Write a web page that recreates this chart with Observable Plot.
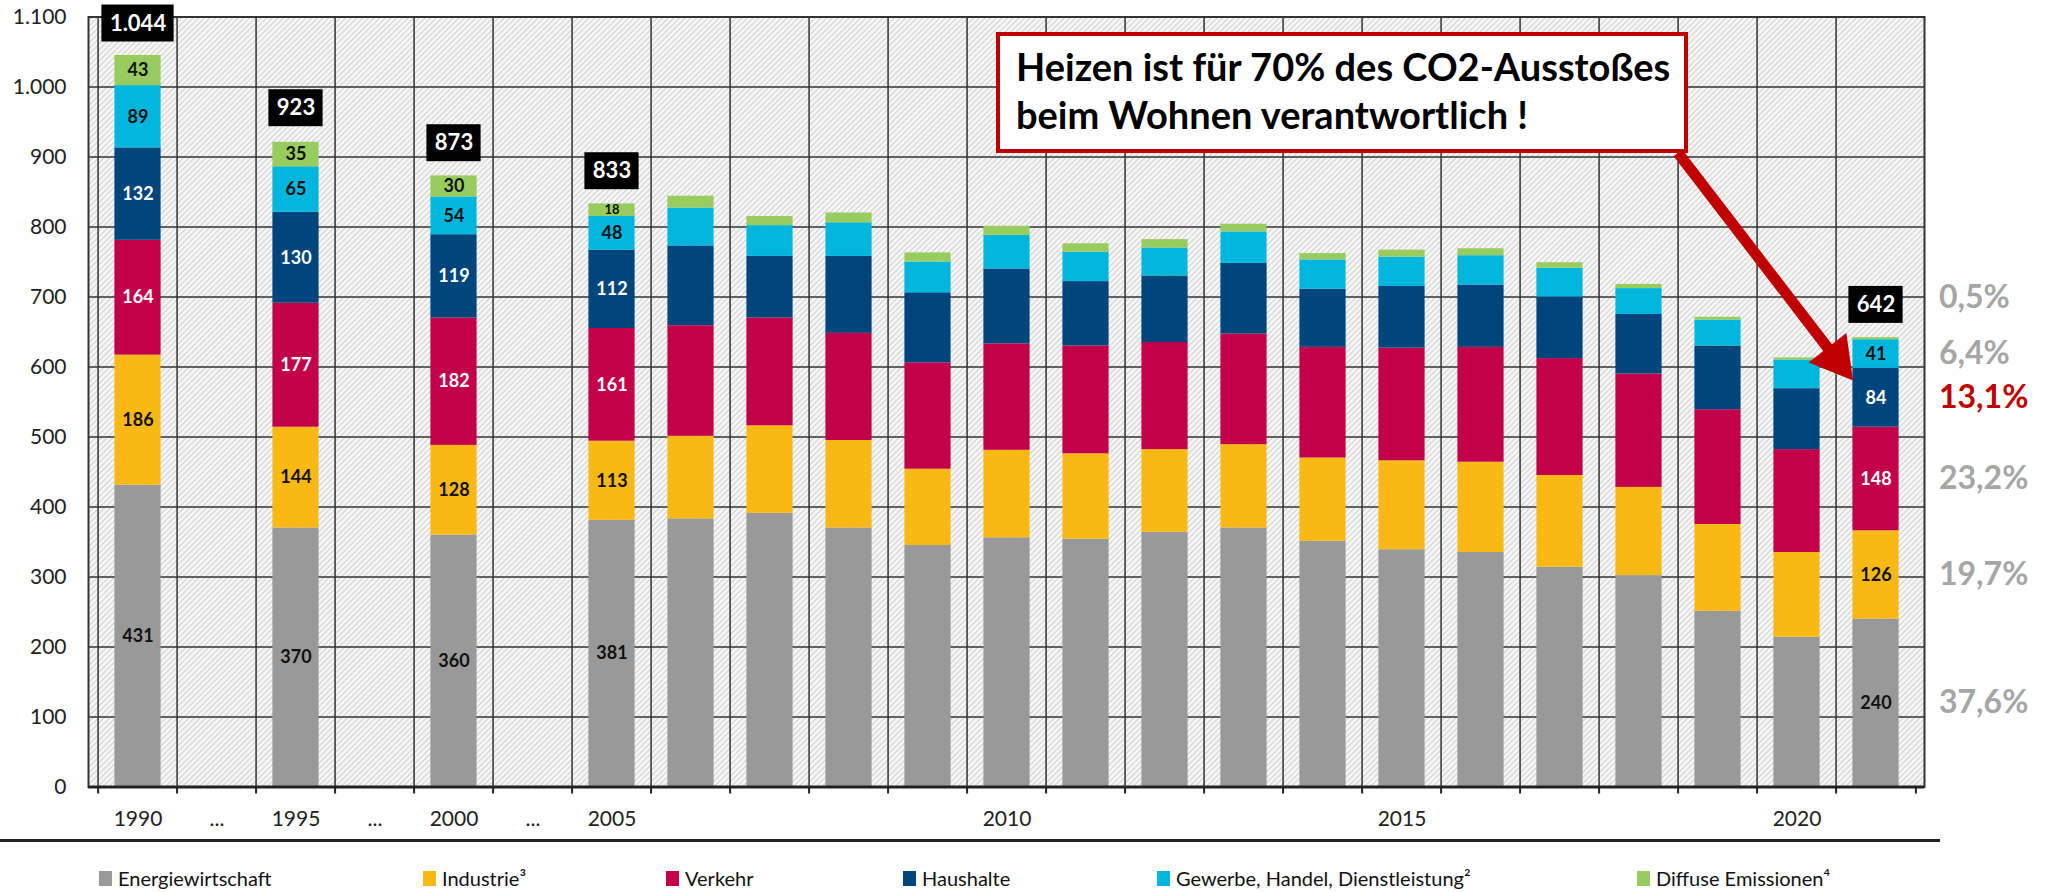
<!DOCTYPE html>
<html><head><meta charset="utf-8">
<script src="https://cdn.jsdelivr.net/npm/d3@7"></script>
<script src="https://cdn.jsdelivr.net/npm/@observablehq/plot@0.6"></script>
<style>
html,body{margin:0;padding:0;background:#fff;}
#wrap{position:relative;width:2055px;height:892px;overflow:hidden;font-family:Lato,sans-serif;}
#wrap svg{display:block;}
#note{position:absolute;left:996px;top:32px;width:692px;height:121px;box-sizing:border-box;border:4px solid #c00000;background:#fff;padding:6px 0 0 16px;font-weight:700;font-size:38px;font-family:Lato,sans-serif;line-height:48px;color:#000;white-space:nowrap;}
#rule{position:absolute;left:0;top:839px;width:1940px;height:3px;background:#222;}
#legend{position:absolute;left:0;top:867px;height:22px;width:2055px;}
.item{position:absolute;top:0;display:flex;align-items:center;font-weight:400;font-size:20px;font-family:Lato,sans-serif;color:#111;white-space:nowrap;line-height:22px;}
.sw{width:13px;height:15px;margin-right:6px;}
</style></head><body><div id="wrap"></div>
<script>
// ---- data ----
const years = ["1990","1995","2000","2005","2006","2007","2008","2009","2010","2011","2012","2013","2014","2015","2016","2017","2018","2019","2020","2021"];
const xSlots = ["1990","gap1","1995","gap2","2000","gap3","2005","2006","2007","2008","2009","2010","2011","2012","2013","2014","2015","2016","2017","2018","2019","2020","2021"];
const shownYearTicks = ["1990","1995","2000","2005","2010","2015","2020"];
const sectors = ["Energiewirtschaft","Industrie³","Verkehr","Haushalte","Gewerbe, Handel, Dienstleistung²","Diffuse Emissionen⁴"];
const colors = ["#999999","#f9b914","#c3004a","#00467c","#00b6dc","#99cc5f"];
const energie   = [431,370,360,381,383,391,370,345,356,354,364,370,351,339,335,314,302,251,214,240];
const industrie = [186,144,128,113,118,125,125,109,125,122,118,119,119,127,129,131,126,124,121,126];
const verkehr   = [164,177,182,161,158,154,153,152,152,154,153,158,158,161,164,167,162,164,147,148];
const haushalte = [132,130,119,112,114, 88,110,100,107, 92, 95,101, 83, 88, 89, 88, 85, 91, 87, 84];
const gewerbe   = [ 89, 65, 54, 48, 54, 44, 48, 44, 48, 42, 40, 45, 42, 42, 42, 41, 37, 37, 41, 41];
const diffuse   = [ 43, 35, 30, 18, 17, 13, 14, 13, 13, 12, 12, 11,  9, 10, 10,  8,  6,  4,  3,  3];
const labeledYears = ["1990","1995","2000","2005","2021"];
const totalYears  = ["1990","1995","2000","2005","2021"];
const totalValues = [1044, 923, 873, 833, 642];
const shareLabels = ["37,6%","19,7%","23,2%","13,1%","6,4%","0,5%"];
const yTicks = [0,100,200,300,400,500,600,700,800,900,1000,1100];
const noteLines = ["Heizen ist für 70% des CO2-Ausstoßes","beim Wohnen verantwortlich !"];
const arrowFrom = {x: "2019", y: 906};
const arrowTo   = {x: "2021", y: 612};

// ---- build tables ----
const series = [energie, industrie, verkehr, haushalte, gewerbe, diffuse];
const table = [];
years.forEach((yr, i) => sectors.forEach((s, j) => table.push({year: yr, sector: s, value: series[j][i]})));
const totals = totalYears.map((y, i) => ({year: y, total: totalValues[i]}));
const lastYear = years[years.length - 1];
let cum = 0;
const shareRows = sectors.map((s, j) => {
  const v = series[j][series[j].length - 1];
  const r = {sector: s, label: shareLabels[j], mid: cum + v / 2};
  cum += v;
  return r;
});

const W = 2055, H = 850, mL = 88, mR = 131, mT = 16.5, mB = 63.5;
const step = (W - mL - mR) / xSlots.length;
const de = d3.formatLocale({decimal: ",", thousands: ".", grouping: [3], currency: ["", "€"]});
const fmt = de.format(",d");
const whiteText = new Set(["Verkehr","Haushalte"]);
const isLab = d => labeledYears.includes(d.year) && d.value >= 10;
const barInset = 16.4;

const chart = Plot.plot({
  width: W, height: H,
  marginLeft: mL, marginRight: mR, marginTop: mT, marginBottom: mB,
  style: {fontFamily: "Lato, sans-serif", fontSize: "21px", color: "#222", background: "transparent"},
  x: {domain: xSlots, padding: 0, tickSize: 0, tickPadding: 24, label: null,
      tickFormat: d => d.startsWith("gap") ? "..." : (shownYearTicks.includes(d) ? d : "")},
  y: {domain: [0, 1100], ticks: yTicks, tickFormat: fmt, tickSize: 0, tickPadding: 22, label: null},
  color: {domain: sectors, range: colors},
  marks: [
    Plot.frame({fill: "url(#hatch)"}),
    Plot.ruleY(yTicks, {stroke: "#333", strokeWidth: 1.5}),
    Plot.ruleX(xSlots, {x: d => d, dx: -step / 2, stroke: "#333", strokeWidth: 1.5}),
    Plot.ruleX(xSlots, {x: d => d, y1: 0, y2: -10, dx: -step / 2, stroke: "#222", strokeWidth: 2}),
    Plot.ruleX([lastYear], {x: d => d, y1: 0, y2: -10, dx: step / 2, stroke: "#222", strokeWidth: 2}),
    Plot.barY(table, {x: "year", y: "value", fill: "sector", z: "sector", order: sectors, insetLeft: barInset, insetRight: barInset}),
    Plot.text(table, Plot.stackY({x: "year", y: "value", z: "sector", order: sectors,
      text: d => isLab(d) && d.value >= 25 && !whiteText.has(d.sector) ? String(d.value) : null,
      fill: "#111", fontWeight: 700, fontSize: 18})),
    Plot.text(table, Plot.stackY({x: "year", y: "value", z: "sector", order: sectors,
      text: d => isLab(d) && d.value >= 25 && whiteText.has(d.sector) ? String(d.value) : null,
      fill: "#fff", fontWeight: 700, fontSize: 18})),
    Plot.text(table, Plot.stackY({x: "year", y: "value", z: "sector", order: sectors,
      text: d => isLab(d) && d.value < 25 ? String(d.value) : null,
      fill: "#111", fontWeight: 700, fontSize: 13})),
    Plot.frame({stroke: "#333", strokeWidth: 2}),
    Plot.ruleY([0], {stroke: "#222", strokeWidth: 3}),
    Plot.barY(totals, {filter: d => d.total >= 1000, x: "year", y1: d => d.total + 20.3, y2: d => d.total + 73.1, fill: "#000", insetLeft: 3.4, insetRight: 3.4}),
    Plot.barY(totals, {filter: d => d.total < 1000, x: "year", y1: d => d.total + 20.3, y2: d => d.total + 73.1, fill: "#000", insetLeft: 12.4, insetRight: 12.4}),
    Plot.text(totals, {x: "year", y: d => d.total + 46.7, text: d => fmt(d.total), fill: "#fff", fontWeight: 700, fontSize: 22}),
    Plot.text(shareRows, {filter: d => d.sector !== "Haushalte" && d.sector !== "Diffuse Emissionen⁴", x: () => lastYear, y: "mid", text: "label", textAnchor: "start", dx: 63, fill: "#a6a6a6", fontWeight: 700, fontSize: 32}),
    Plot.text(shareRows, {filter: d => d.sector === "Haushalte", x: () => lastYear, y: "mid", text: "label", textAnchor: "start", dx: 63, fill: "#c00000", fontWeight: 700, fontSize: 32}),
    Plot.text(shareRows, {filter: d => d.sector === "Diffuse Emissionen⁴", x: () => lastYear, y: "mid", text: "label", textAnchor: "start", dx: 63, dy: -41, fill: "#a6a6a6", fontWeight: 700, fontSize: 32}),
    Plot.link([{}], {x1: () => arrowFrom.x, y1: () => arrowFrom.y, x2: () => arrowTo.x, y2: () => arrowTo.y, dx: -40, stroke: "#c00000", strokeWidth: 11}),
    Plot.dot([{}], {x: () => arrowTo.x, y: () => arrowTo.y, dx: -40, symbol: "triangle", r: 17.8, fill: "#c00000", stroke: "none", rotate: 142})
  ]
});

// hatch pattern for plot background
const defs = d3.select(chart).insert("defs", ":first-child");
const pat = defs.append("pattern").attr("id", "hatch").attr("width", 4).attr("height", 4)
  .attr("patternUnits", "userSpaceOnUse").attr("patternTransform", "rotate(45)");
pat.append("rect").attr("width", 4).attr("height", 4).attr("fill", "#f6f6f6");
pat.append("line").attr("x1", 0).attr("y1", 0).attr("x2", 0).attr("y2", 4).attr("stroke", "#c2c2c2").attr("stroke-width", 1.5);

const wrap = document.getElementById("wrap");
wrap.appendChild(chart);

// annotation box
const note = document.createElement("div");
note.id = "note";
note.innerHTML = noteLines.map(l => `<div>${l}</div>`).join("");
wrap.appendChild(note);

// rule under axis
const rule = document.createElement("div");
rule.id = "rule";
wrap.appendChild(rule);

// legend
const legendX = [99, 423, 666, 903, 1157, 1637];
const legend = document.createElement("div");
legend.id = "legend";
sectors.forEach((s, i) => {
  const it = document.createElement("div");
  it.className = "item";
  it.style.left = legendX[i] + "px";
  it.innerHTML = `<span class="sw" style="background:${colors[i]}"></span><span>${s}</span>`;
  legend.appendChild(it);
});
wrap.appendChild(legend);
</script>
</body></html>
